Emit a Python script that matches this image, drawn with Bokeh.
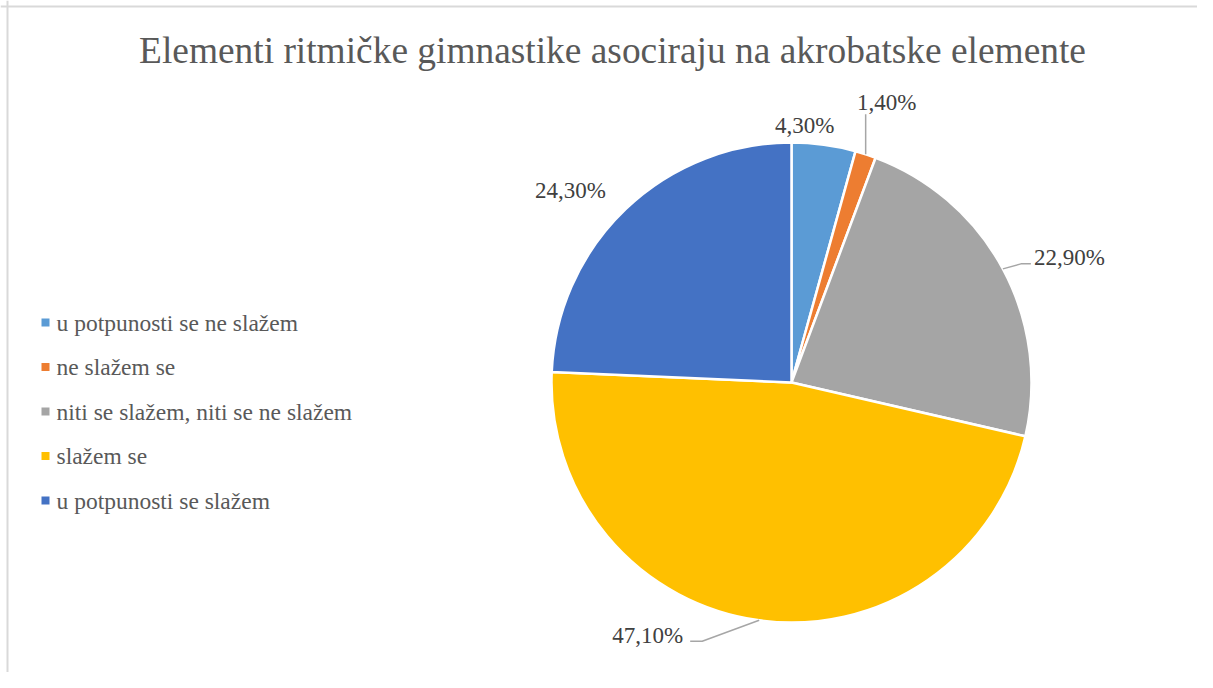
import math
from bokeh.plotting import figure
from bokeh.models import Range1d, ColumnDataSource, Span
from bokeh.core.properties import value
from bokeh.embed import file_html
from bokeh.resources import INLINE

title = "Elementi ritmičke gimnastike asociraju na akrobatske elemente"
categories = ["u potpunosti se ne slažem", "ne slažem se",
              "niti se slažem, niti se ne slažem", "slažem se",
              "u potpunosti se slažem"]
values = [4.3, 1.4, 22.9, 47.1, 24.3]
labels = ["4,30%", "1,40%", "22,90%", "47,10%", "24,30%"]
colors = ["#5B9BD5", "#ED7D31", "#A5A5A5", "#FFC000", "#4472C4"]

W, H = 1197, 672
FONT = value("Liberation Serif")

# data coords == screenshot pixel coords (x), y flipped
def Y(sy):
    return 688 - sy

p = figure(width=W, height=H, output_backend="svg", toolbar_location=None,
           x_range=Range1d(0, W), y_range=Range1d(688 - H, 688),
           min_border=0, outline_line_color=None)
p.axis.visible = False
p.grid.visible = False
p.background_fill_color = "white"
p.border_fill_color = "white"

p.add_layout(Span(location=7, dimension="height", line_color="#D9D9D9", line_width=2))
p.add_layout(Span(location=Y(6), dimension="width", line_color="#D9D9D9", line_width=2))

cx, cy, R = 791, Y(382), 240
total = sum(values)
starts, ends, mids = [], [], []
cum = 0.0
for v in values:
    a0 = math.pi / 2 - 2 * math.pi * cum / total
    a1 = math.pi / 2 - 2 * math.pi * (cum + v) / total
    starts.append(a1)
    ends.append(a0)
    mids.append((a0 + a1) / 2)
    cum += v

src = ColumnDataSource(dict(start=starts, end=ends, color=colors))
p.wedge(x=cx, y=cy, radius=R, start_angle="start", end_angle="end",
        fill_color="color", line_color="white", line_width=2.5, source=src)

# label layout (offsets relative to slice edge at mid angle)
edge = [(cx + R * math.cos(m), cy + R * math.sin(m)) for m in mids]
lab_off = [(-19, 19), (21, 52), (31, 11), (-76, -15), (-55, 19)]
aligns = ["center", "center", "left", "right", "center"]
lx = [edge[i][0] + lab_off[i][0] for i in range(5)]
ly = [edge[i][1] + lab_off[i][1] for i in range(5)]
p.text(x=lx, y=ly, text=labels, text_font=FONT, text_font_size="23px",
       text_color="#404040", text_align=aligns, text_baseline="middle")

# leader lines
e1 = edge[1]
p.line([e1[0], e1[0]], [e1[1], e1[1] + 40], line_color="#A6A6A6", line_width=1.5)
e2 = edge[2]
p.line([e2[0], e2[0] + 18, e2[0] + 28], [e2[1], e2[1] + 5, e2[1] + 5],
       line_color="#A6A6A6", line_width=1.5)
e3 = edge[3]
p.line([e3[0], e3[0] - 57, e3[0] - 69], [e3[1], e3[1] - 21, e3[1] - 21],
       line_color="#A6A6A6", line_width=1.5)

# title
p.text(x=[612], y=[Y(50)], text=[title], text_font=FONT, text_font_size="37.4px",
       text_color="#595959", text_align="center", text_baseline="middle")

# legend
ly0, dy = Y(322), 44.5
leg_y = [ly0 - i * dy for i in range(len(categories))]
p.scatter(x=[45] * len(categories), y=leg_y, marker="square", size=8,
          fill_color=colors, line_color=None)
p.text(x=[56] * len(categories), y=leg_y, text=categories, text_font=FONT,
       text_font_size="23.5px", text_color="#595959", text_align="left",
       text_baseline="middle")

open("out.html", "w").write(file_html(p, INLINE))
